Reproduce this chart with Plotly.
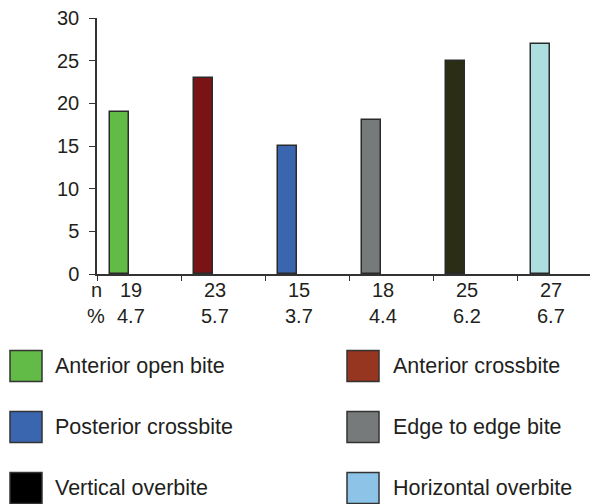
import plotly.graph_objects as go

# ---- data ----
categories = ["Anterior open bite", "Anterior crossbite", "Posterior crossbite",
              "Edge to edge bite", "Vertical overbite", "Horizontal overbite"]
counts = [19, 23, 15, 18, 25, 27]
percents = ["4.7", "5.7", "3.7", "4.4", "6.2", "6.7"]
bar_colors = ["#62bb46", "#7a1414", "#3a66b0", "#777a7a", "#2b2d15", "#aedfe0"]
legend_colors = ["#62bb46", "#963520", "#3a66b0", "#777a7a", "#000000", "#8cc3e6"]
y_ticks = [0, 5, 10, 15, 20, 25, 30]

# page body has an 8px default margin; work in page pixels and convert
OFF = 8
W, H = 598 - OFF, 504 - OFF
PLOT_L, PLOT_T, PLOT_R, PLOT_B = 97, 18, 598, 274   # page pixels
L, T = PLOT_L - OFF, PLOT_T - OFF
R = W - (PLOT_R - OFF)
B = H - (PLOT_B - OFF)
PW, PH = PLOT_R - PLOT_L, PLOT_B - PLOT_T
FONT = "Liberation Sans, Arial, sans-serif"
TXT = "#231f20"

def px_x(px):
    return (px - PLOT_L) / PW

def px_y(py):
    return (PLOT_B - py) / PH

xpos = list(range(len(categories)))

fig = go.Figure()
fig.add_trace(go.Bar(
    x=xpos, y=counts, width=0.226,
    marker=dict(color=bar_colors, line=dict(color="#2a2a2a", width=1.5)),
    showlegend=False, hoverinfo="skip",
))

fig.update_layout(
    width=W, height=H,
    margin=dict(l=L, r=R, t=T, b=B, pad=0),
    plot_bgcolor="white", paper_bgcolor="white",
    font=dict(family=FONT, size=20, color=TXT),
    bargap=0,
    xaxis=dict(
        range=[-0.27, 5.69], showgrid=False, zeroline=False,
        showline=True, linecolor="#333333", linewidth=1.5,
        tickmode="array", tickvals=[k - 0.265 for k in range(7)],
        ticktext=[""] * 7, ticks="outside", ticklen=5,
        tickcolor="#333333", tickwidth=1.2,
    ),
    yaxis=dict(
        range=[0, 30], showgrid=False, zeroline=False,
        showline=True, linecolor="#333333", linewidth=1.5,
        tickmode="array", tickvals=y_ticks,
        ticks="outside", ticklen=6, tickcolor="#333333", tickwidth=1.2,
        ticklabelstandoff=6, ticklabeloverflow="allow",
        tickfont=dict(size=20, color=TXT),
    ),
)

ann = []
# table rows
ann.append(dict(x=px_x(96), y=px_y(290), xref="paper", yref="paper", text="n",
                showarrow=False, xanchor="center", yanchor="middle",
                font=dict(size=20, color=TXT)))
ann.append(dict(x=px_x(96), y=px_y(316), xref="paper", yref="paper", text="%",
                showarrow=False, xanchor="center", yanchor="middle",
                font=dict(size=20, color=TXT)))
for i, (n, p) in enumerate(zip(counts, percents)):
    ann.append(dict(x=i + 0.13, y=px_y(290), xref="x", yref="paper", text=str(n),
                    showarrow=False, xanchor="center", yanchor="middle",
                    font=dict(size=20, color=TXT)))
    ann.append(dict(x=i + 0.13, y=px_y(316), xref="x", yref="paper", text=p,
                    showarrow=False, xanchor="center", yanchor="middle",
                    font=dict(size=20, color=TXT)))

# custom legend
shapes = []
col_sq = [10, 347]
col_tx = [53, 391]
row_c = [366, 427, 488]
for i, (name, c) in enumerate(zip(categories, legend_colors)):
    col, row = i % 2, i // 2
    cy = row_c[row]
    shapes.append(dict(type="rect", xref="paper", yref="paper",
                       x0=px_x(col_sq[col]), x1=px_x(col_sq[col] + 32),
                       y0=px_y(cy + 15.5), y1=px_y(cy - 15.5),
                       fillcolor=c, line=dict(color="#333333", width=1.5)))
    ann.append(dict(x=px_x(col_tx[col]), y=px_y(cy), xref="paper", yref="paper",
                    text=name, showarrow=False, xanchor="left", yanchor="middle",
                    font=dict(size=21.5, color=TXT)))

fig.update_layout(annotations=ann, shapes=shapes)
fig.write_html("out.html")
